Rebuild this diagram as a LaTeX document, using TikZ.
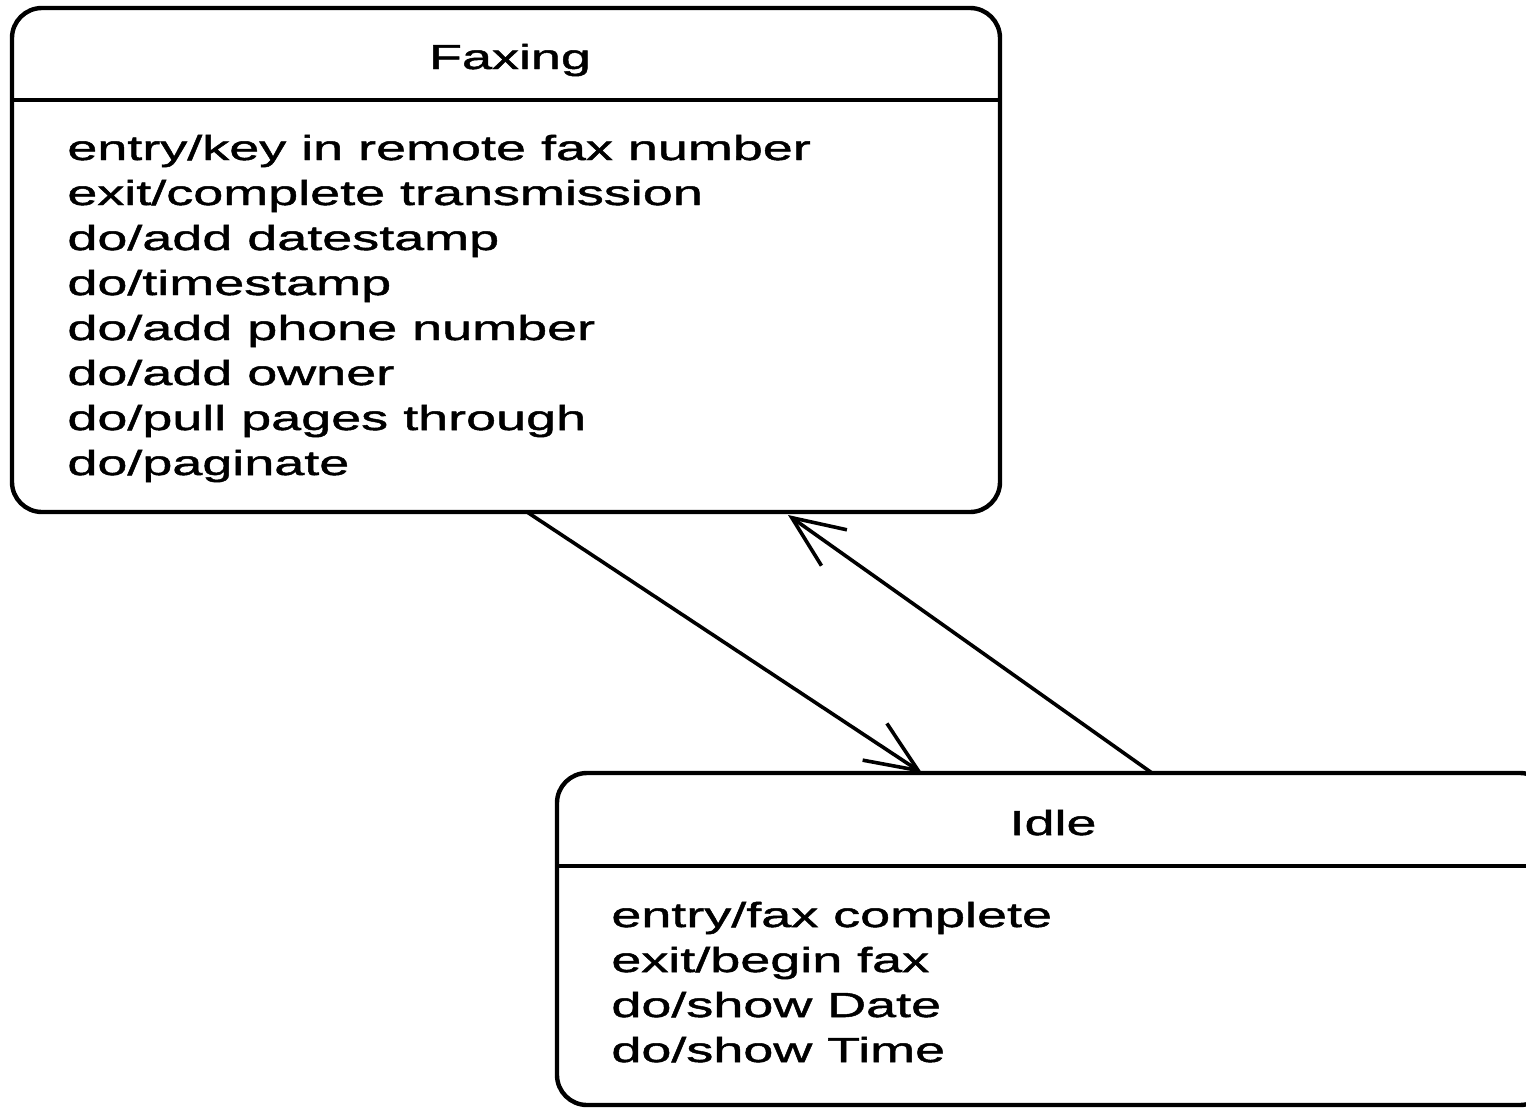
\documentclass[tikz,border=0pt]{standalone}
\usepackage{fontspec}
\setmainfont{Liberation Sans}[FakeStretch=1.55,FakeBold=1.4]
\usetikzlibrary{arrows.meta}
\begin{document}
\begin{tikzpicture}[x=0.5pt,y=-0.5pt,
  statebox/.style={draw, line width=2.2pt, rounded corners=15pt, inner sep=0pt, outer sep=0pt},
  divider/.style={line width=1.7pt},
  txt/.style={inner sep=0pt, anchor=base west, font=\fontsize{17.4pt}{22.5pt}\selectfont},
  ttl/.style={inner sep=0pt, anchor=base, font=\fontsize{17.4pt}{22.5pt}\selectfont},
  arr/.style={line width=1.8pt, -{Straight Barb[length=26pt,width=22pt,line width=1.8pt]}}]
\useasboundingbox (0,0) rectangle (1526,1108);
\clip (0,0) rectangle (1526,1108);
\fill[white] (0,0) rectangle (1526,1108);
% Faxing
\node[statebox, minimum width=494pt, minimum height=252pt] (fax) at (506,260) {};
\draw[divider] ([yshift=-46pt]fax.north west) -- ([yshift=-46pt]fax.north east);
\node[ttl] (faxt) at (510,69) {Faxing};
\foreach \t [count=\i] in {entry/key in remote fax number, exit/complete transmission, do/add datestamp, do/timestamp, do/add phone number, do/add owner, do/pull pages through, do/paginate}
  \node[txt] (f\i) at (67,{160+45*(\i-1)}) {\t};
% Idle
\node[statebox, minimum width=496.5pt, minimum height=166pt] (idle) at (1053.5,939) {};
\draw[divider] ([yshift=-46.5pt]idle.north west) -- ([yshift=-46.5pt]idle.north east);
\node[ttl] (idlet) at (1053,835) {Idle};
\foreach \t [count=\i] in {entry/fax complete, exit/begin fax, do/show Date, do/show Time}
  \node[txt] (g\i) at (611,{927+45*(\i-1)}) {\t};
% transitions
\draw[arr] ([xshift=10.5pt]fax.south) -- ([xshift=-65.75pt]idle.north);
\draw[arr] ([xshift=49.25pt]idle.north) -- ([xshift=141pt,yshift=-1.5pt]fax.south);
\end{tikzpicture}
\end{document}
